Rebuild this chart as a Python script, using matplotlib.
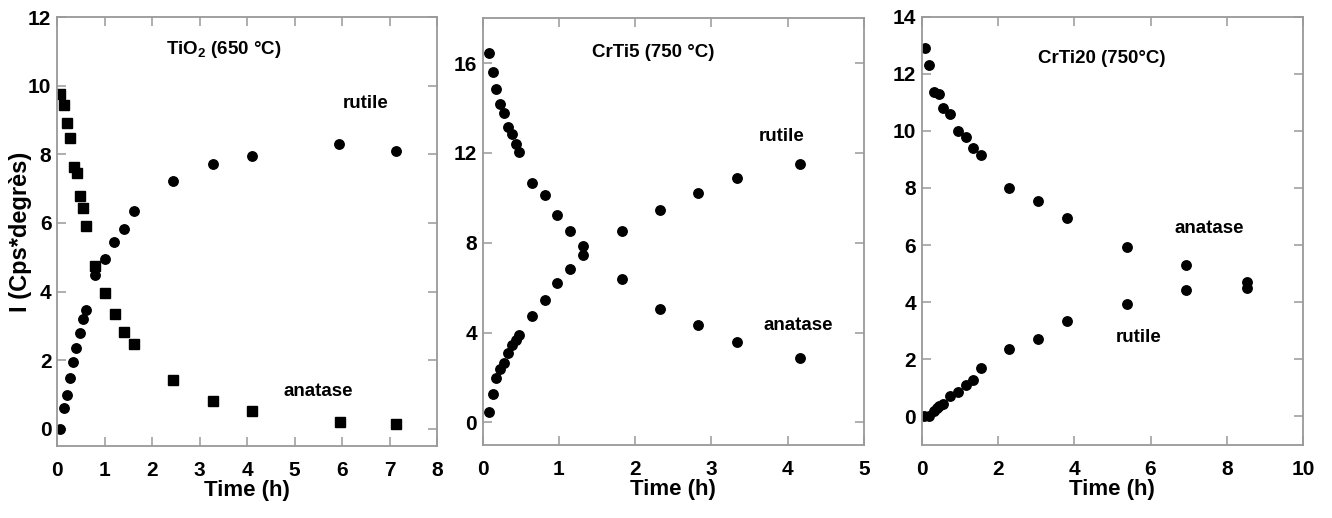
import numpy as np
import matplotlib
matplotlib.use("Agg")
import matplotlib.pyplot as plt

plt.rcParams['font.family'] = ['Liberation Sans', 'DejaVu Sans']

# --- TiO2 (650 C) ---
tio2_t_an = [0.07, 0.15, 0.21, 0.27, 0.35, 0.42, 0.48, 0.55, 0.62, 0.81,
             1.01, 1.22, 1.42, 1.62, 2.44, 3.28, 4.11, 5.95, 7.14]
tio2_anatase = [9.76, 9.43, 8.91, 8.47, 7.62, 7.47, 6.79, 6.44, 5.90, 4.76,
                3.96, 3.34, 2.81, 2.47, 1.43, 0.81, 0.52, 0.21, 0.14]
tio2_t_ru = [0.06, 0.14, 0.20, 0.27, 0.34, 0.41, 0.48, 0.55, 0.60, 0.81,
             1.01, 1.21, 1.42, 1.62, 2.44, 3.28, 4.11, 5.94, 7.14]
tio2_rutile = [0.0, 0.60, 1.00, 1.48, 1.96, 2.37, 2.79, 3.20, 3.45, 4.48,
               4.95, 5.44, 5.83, 6.36, 7.22, 7.71, 7.94, 8.31, 8.11]

# --- CrTi5 (750 C) ---
crti5_t = [0.08, 0.13, 0.18, 0.23, 0.28, 0.33, 0.38, 0.43, 0.48, 0.65,
           0.82, 0.98, 1.15, 1.32, 1.83, 2.33, 2.83, 3.33, 4.16]
crti5_anatase = [16.46, 15.61, 14.84, 14.16, 13.76, 13.15, 12.84, 12.38, 12.04, 10.65,
                 10.11, 9.22, 8.54, 7.86, 6.38, 5.03, 4.36, 3.60, 2.88]
crti5_rutile = [0.47, 1.29, 1.96, 2.39, 2.65, 3.08, 3.47, 3.68, 3.90, 4.76,
                5.47, 6.23, 6.82, 7.44, 8.51, 9.45, 10.23, 10.87, 11.51]

# --- CrTi20 (750 C) ---
crti20_t_an = [0.09, 0.20, 0.31, 0.44, 0.55, 0.74, 0.94, 1.16, 1.35, 1.55,
               2.30, 3.04, 3.80, 5.37, 6.94, 8.52]
crti20_anatase = [12.91, 12.29, 11.36, 11.28, 10.81, 10.58, 9.99, 9.79, 9.41, 9.17,
                  7.99, 7.53, 6.93, 5.94, 5.29, 4.71]
crti20_t_ru = [0.07, 0.20, 0.31, 0.39, 0.46, 0.55, 0.74, 0.94, 1.16, 1.35,
               1.55, 2.30, 3.04, 3.80, 5.37, 6.94, 8.52]
crti20_rutile = [0.0, 0.0, 0.18, 0.29, 0.37, 0.42, 0.72, 0.84, 1.11, 1.29,
                 1.69, 2.36, 2.72, 3.35, 3.94, 4.44, 4.50]


def style_axes(ax, xlim, ylim, xticks, yticks):
    ax.set_xlim(*xlim)
    ax.set_ylim(*ylim)
    ax.set_xticks(xticks)
    ax.set_yticks(yticks)
    for spine in ax.spines.values():
        spine.set_color("#999999")
        spine.set_linewidth(1.3)
    ax.tick_params(direction="in", length=6.5, width=1.1, color="#999999",
                   top=True, right=True, labelsize=15)
    ax.tick_params(axis="x", pad=11)
    ax.tick_params(axis="y", pad=4)
    for lab in ax.get_xticklabels() + ax.get_yticklabels():
        lab.set_fontweight("bold")
    ax.set_xlabel("Time (h)", fontsize=16, fontweight="bold", labelpad=0)


def note(ax, x, y, s):
    ax.text(x, y, s, fontsize=13.5, fontweight="bold", ha="center", va="center")


fig = plt.figure(figsize=(13.32, 5.18), dpi=100)
ax1 = fig.add_axes([0.0428, 0.139, 0.2853, 0.828])
ax2 = fig.add_axes([0.3624, 0.141, 0.2862, 0.824])
ax3 = fig.add_axes([0.692, 0.141, 0.2863, 0.827])

mk = dict(color="black", linestyle="none")

ax1.plot(tio2_t_an, tio2_anatase, marker="s", markersize=6.5, **mk)
ax1.plot(tio2_t_ru, tio2_rutile, marker="o", markersize=6.8, **mk)
style_axes(ax1, (0, 8), (-0.5, 12), np.arange(0, 9, 1), np.arange(0, 13, 2))
ax1.set_ylabel("I (Cps*degrès)", fontsize=17, fontweight="bold", va="center")
ax1.yaxis.set_label_coords(-0.097, 0.5)
note(ax1, 3.5, 11.05, "TiO$_\\mathregular{2}$ (650 °C)")
note(ax1, 6.5, 9.47, "rutile")
note(ax1, 5.5, 1.08, "anatase")

ax2.plot(crti5_t, crti5_anatase, marker="o", markersize=6.8, **mk)
ax2.plot(crti5_t, crti5_rutile, marker="o", markersize=6.8, **mk)
style_axes(ax2, (0, 5), (-1, 18), np.arange(0, 6, 1), np.arange(0, 17, 4))
note(ax2, 2.24, 16.46, "CrTi5 (750 °C)")
note(ax2, 3.92, 12.72, "rutile")
note(ax2, 4.14, 4.30, "anatase")

ax3.plot(crti20_t_an, crti20_anatase, marker="o", markersize=6.8, **mk)
ax3.plot(crti20_t_ru, crti20_rutile, marker="o", markersize=6.8, **mk)
style_axes(ax3, (0, 10), (-1, 14), np.arange(0, 11, 2), np.arange(0, 15, 2))
note(ax3, 4.73, 12.53, "CrTi20 (750°C)")
note(ax3, 7.55, 6.59, "anatase")
note(ax3, 5.70, 2.78, "rutile")

fig.savefig("out.png", dpi=100)
